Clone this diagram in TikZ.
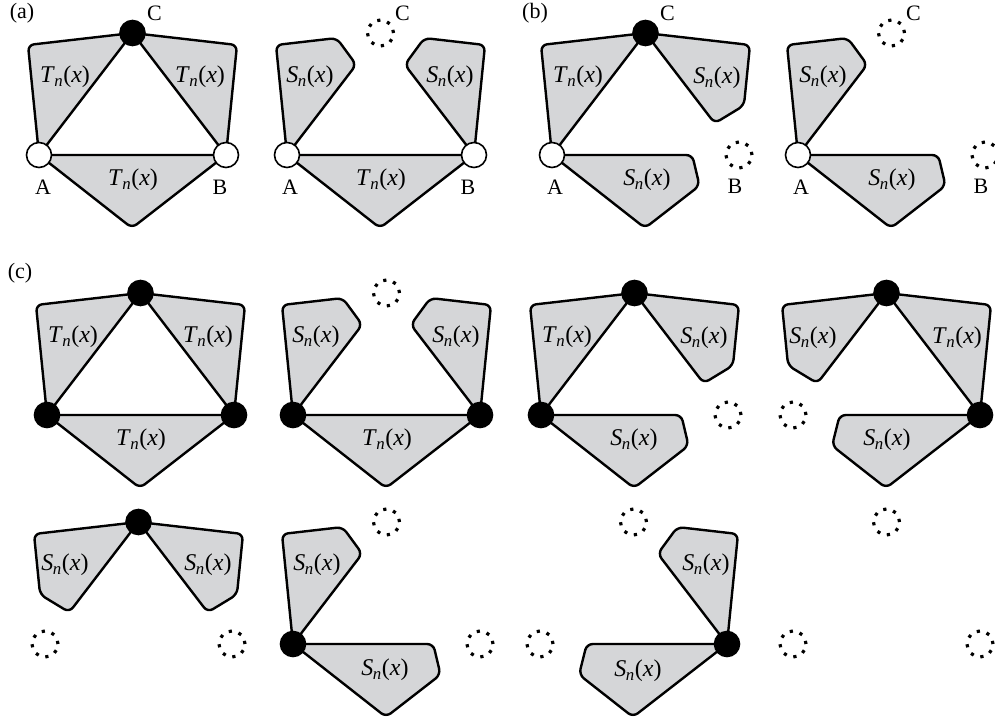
\documentclass[tikz,border=0pt]{standalone}
\usepackage{fontspec}
\setmainfont{Liberation Serif}
\usepackage{tikz}
\usetikzlibrary{calc,backgrounds}
\definecolor{blobgray}{RGB}{213,214,216}
\newcommand{\Tnx}{\textit{T}\kern-0.5pt\textsubscript{\textit{n}}(\textit{x})}
\newcommand{\Snx}{\textit{S}\kern-0.5pt\textsubscript{\textit{n}}(\textit{x})}

\begin{document}
\begin{tikzpicture}[x=1pt,y=-1pt,
  full node/.style={circle,fill=black,draw,line width=1.6pt,minimum size=25pt,inner sep=0pt},
  open node/.style={circle,fill=white,draw,line width=1.6pt,minimum size=25pt,inner sep=0pt},
  gone node/.style={circle,draw,line width=3.2pt,minimum size=26pt,inner sep=0pt,dash pattern=on 3.2pt off 7pt},
  blob/.style={fill=blobgray,draw,line width=2.4pt,rounded corners=6pt,line join=round},
  text node/.style={inner sep=0pt,font=\fontsize{24}{28}\selectfont},
  letter node/.style={inner sep=0pt,font=\fontsize{22}{26}\selectfont}]
  \useasboundingbox (0,0) rectangle (995,720);

  % (a) all three T blobs
  \begin{scope}[shift={(39,155)}]
    \node[open node] (a1A) at (0,0) {};
    \node[open node] (a1B) at (187,0) {};
    \node[full node] (a1C) at (93.5,-122) {};
    \coordinate (a1L) at (-11,-110);
    \coordinate (a1R) at (198,-110);
    \coordinate (a1D) at (93,73);
    \begin{scope}[on background layer]
      \draw[blob] (a1A.center) -- (a1L) -- (a1C.center) -- cycle;
      \draw[blob] (a1C.center) -- (a1R) -- (a1B.center) -- cycle;
      \draw[blob] (a1A.center) -- (a1D) -- (a1B.center) -- cycle;
    \end{scope}
    \node[text node] (a1t1) at (26,-78) {\Tnx};
    \node[text node] (a1t2) at (161,-78) {\Tnx};
    \node[text node] (a1t3) at (94,25) {\Tnx};
    \node[letter node] (a1a) at (4,32) {A};
    \node[letter node] (a1b) at (181,32) {B};
    \node[letter node] (a1c) at (115.5,-142) {C};
    \node[letter node] (tagA) at (-17,-142) {(a)};
  \end{scope}

  % (a) C removed
  \begin{scope}[shift={(287,155)}]
    \node[open node] (a2A) at (0,0) {};
    \node[open node] (a2B) at (187,0) {};
    \node[gone node] (a2C) at (93.5,-122) {};
    \coordinate (a2L) at (-11,-110);
    \coordinate (a2R) at (198,-110);
    \coordinate (a2D) at (93,73);
    \begin{scope}[on background layer]
      \draw[blob] (a2A.center) -- (a2L) -- ($(a2L)!0.58!(a2C.center)$) -- ($(a2A.center)!0.74!(a2C.center)$) -- cycle;
      \draw[blob] (a2B.center) -- (a2R) -- ($(a2R)!0.58!(a2C.center)$) -- ($(a2B.center)!0.74!(a2C.center)$) -- cycle;
      \draw[blob] (a2A.center) -- (a2D) -- (a2B.center) -- cycle;
    \end{scope}
    \node[text node] (a2t1) at (23,-78) {\Snx};
    \node[text node] (a2t2) at (163,-78) {\Snx};
    \node[text node] (a2t3) at (94,25) {\Tnx};
    \node[letter node] (a2a) at (3,32) {A};
    \node[letter node] (a2b) at (181,32) {B};
    \node[letter node] (a2c) at (115.5,-142) {C};
  \end{scope}

  % (b) B removed
  \begin{scope}[shift={(552,155)}]
    \node[open node] (b1A) at (0,0) {};
    \node[gone node] (b1B) at (187,0) {};
    \node[full node] (b1C) at (93.5,-122) {};
    \coordinate (b1L) at (-11,-110);
    \coordinate (b1R) at (198,-110);
    \coordinate (b1D) at (93,73);
    \begin{scope}[on background layer]
      \draw[blob] (b1A.center) -- (b1L) -- (b1C.center) -- cycle;
      \draw[blob] (b1C.center) -- (b1R) -- ($(b1R)!0.55!(b1B.center)$) -- ($(b1C.center)!0.74!(b1B.center)$) -- cycle;
      \draw[blob] (b1A.center) -- ($(b1A.center)!0.75!(b1B.center)$) -- ($(b1D)!0.58!(b1B.center)$) -- (b1D) -- cycle;
    \end{scope}
    \node[text node] (b1t1) at (26,-78) {\Tnx};
    \node[text node] (b1t2) at (165,-77) {\Snx};
    \node[text node] (b1t3) at (95,25) {\Snx};
    \node[letter node] (b1a) at (3,32) {A};
    \node[letter node] (b1b) at (183,31) {B};
    \node[letter node] (b1c) at (115.5,-142) {C};
    \node[letter node] (tagB) at (-17,-142) {(b)};
  \end{scope}

  % (b) B and C removed
  \begin{scope}[shift={(798,155)}]
    \node[open node] (b2A) at (0,0) {};
    \node[gone node] (b2B) at (187,0) {};
    \node[gone node] (b2C) at (93.5,-122) {};
    \coordinate (b2L) at (-11,-110);
    \coordinate (b2D) at (93,73);
    \begin{scope}[on background layer]
      \draw[blob] (b2A.center) -- (b2L) -- ($(b2L)!0.58!(b2C.center)$) -- ($(b2A.center)!0.74!(b2C.center)$) -- cycle;
      \draw[blob] (b2A.center) -- ($(b2A.center)!0.75!(b2B.center)$) -- ($(b2D)!0.58!(b2B.center)$) -- (b2D) -- cycle;
    \end{scope}
    \node[text node] (b2t1) at (25,-78) {\Snx};
    \node[text node] (b2t3) at (94,25) {\Snx};
    \node[letter node] (b2a) at (3,32) {A};
    \node[letter node] (b2b) at (183,31) {B};
    \node[letter node] (b2c) at (115.5,-142) {C};
  \end{scope}

  % (c) first row
  \begin{scope}[shift={(47,415)}]
    \node[full node] (c1A) at (0,0) {};
    \node[full node] (c1B) at (187,0) {};
    \node[full node] (c1C) at (93.5,-122) {};
    \coordinate (c1L) at (-11,-110);
    \coordinate (c1R) at (198,-110);
    \coordinate (c1D) at (93,73);
    \begin{scope}[on background layer]
      \draw[blob] (c1A.center) -- (c1L) -- (c1C.center) -- cycle;
      \draw[blob] (c1C.center) -- (c1R) -- (c1B.center) -- cycle;
      \draw[blob] (c1A.center) -- (c1D) -- (c1B.center) -- cycle;
    \end{scope}
    \node[text node] (c1t1) at (26,-78) {\Tnx};
    \node[text node] (c1t2) at (161,-78) {\Tnx};
    \node[text node] (c1t3) at (94,25) {\Tnx};
    \node[letter node] (tagC) at (-27,-142) {(c)};
  \end{scope}

  \begin{scope}[shift={(293,415)}]
    \node[full node] (c2A) at (0,0) {};
    \node[full node] (c2B) at (187,0) {};
    \node[gone node] (c2C) at (93.5,-122) {};
    \coordinate (c2L) at (-11,-110);
    \coordinate (c2R) at (198,-110);
    \coordinate (c2D) at (93,73);
    \begin{scope}[on background layer]
      \draw[blob] (c2A.center) -- (c2L) -- ($(c2L)!0.58!(c2C.center)$) -- ($(c2A.center)!0.74!(c2C.center)$) -- cycle;
      \draw[blob] (c2B.center) -- (c2R) -- ($(c2R)!0.58!(c2C.center)$) -- ($(c2B.center)!0.74!(c2C.center)$) -- cycle;
      \draw[blob] (c2A.center) -- (c2D) -- (c2B.center) -- cycle;
    \end{scope}
    \node[text node] (c2t1) at (23,-78) {\Snx};
    \node[text node] (c2t2) at (163,-78) {\Snx};
    \node[text node] (c2t3) at (94,25) {\Tnx};
  \end{scope}

  \begin{scope}[shift={(541,415)}]
    \node[full node] (c3A) at (0,0) {};
    \node[gone node] (c3B) at (187,0) {};
    \node[full node] (c3C) at (93.5,-122) {};
    \coordinate (c3L) at (-11,-110);
    \coordinate (c3R) at (198,-110);
    \coordinate (c3D) at (93,73);
    \begin{scope}[on background layer]
      \draw[blob] (c3A.center) -- (c3L) -- (c3C.center) -- cycle;
      \draw[blob] (c3C.center) -- (c3R) -- ($(c3R)!0.55!(c3B.center)$) -- ($(c3C.center)!0.74!(c3B.center)$) -- cycle;
      \draw[blob] (c3A.center) -- ($(c3A.center)!0.75!(c3B.center)$) -- ($(c3D)!0.58!(c3B.center)$) -- (c3D) -- cycle;
    \end{scope}
    \node[text node] (c3t1) at (26,-78) {\Tnx};
    \node[text node] (c3t2) at (163,-77) {\Snx};
    \node[text node] (c3t3) at (93,25) {\Snx};
  \end{scope}

  \begin{scope}[shift={(793,415)}]
    \node[gone node] (c4A) at (0,0) {};
    \node[full node] (c4B) at (187,0) {};
    \node[full node] (c4C) at (93.5,-122) {};
    \coordinate (c4L) at (-11,-110);
    \coordinate (c4R) at (198,-110);
    \coordinate (c4D) at (93,73);
    \begin{scope}[on background layer]
      \draw[blob] (c4C.center) -- (c4L) -- ($(c4L)!0.55!(c4A.center)$) -- ($(c4C.center)!0.74!(c4A.center)$) -- cycle;
      \draw[blob] (c4C.center) -- (c4R) -- (c4B.center) -- cycle;
      \draw[blob] (c4B.center) -- ($(c4B.center)!0.75!(c4A.center)$) -- ($(c4D)!0.58!(c4A.center)$) -- (c4D) -- cycle;
    \end{scope}
    \node[text node] (c4t1) at (20,-77) {\Snx};
    \node[text node] (c4t2) at (164,-77) {\Tnx};
    \node[text node] (c4t3) at (94,25) {\Snx};
  \end{scope}

  % (c) second row
  \begin{scope}[shift={(45,644)}]
    \node[gone node] (c5A) at (0,0) {};
    \node[gone node] (c5B) at (187,0) {};
    \node[full node] (c5C) at (93.5,-122) {};
    \coordinate (c5L) at (-11,-110);
    \coordinate (c5R) at (198,-110);
    \begin{scope}[on background layer]
      \draw[blob] (c5C.center) -- (c5L) -- ($(c5L)!0.55!(c5A.center)$) -- ($(c5C.center)!0.74!(c5A.center)$) -- cycle;
      \draw[blob] (c5C.center) -- (c5R) -- ($(c5R)!0.55!(c5B.center)$) -- ($(c5C.center)!0.74!(c5B.center)$) -- cycle;
    \end{scope}
    \node[text node] (c5t1) at (20,-79) {\Snx};
    \node[text node] (c5t2) at (163,-79) {\Snx};
  \end{scope}

  \begin{scope}[shift={(293,644)}]
    \node[full node] (c6A) at (0,0) {};
    \node[gone node] (c6B) at (187,0) {};
    \node[gone node] (c6C) at (93.5,-122) {};
    \coordinate (c6L) at (-11,-110);
    \coordinate (c6D) at (93,73);
    \begin{scope}[on background layer]
      \draw[blob] (c6A.center) -- (c6L) -- ($(c6L)!0.58!(c6C.center)$) -- ($(c6A.center)!0.74!(c6C.center)$) -- cycle;
      \draw[blob] (c6A.center) -- ($(c6A.center)!0.75!(c6B.center)$) -- ($(c6D)!0.58!(c6B.center)$) -- (c6D) -- cycle;
    \end{scope}
    \node[text node] (c6t1) at (24,-79) {\Snx};
    \node[text node] (c6t3) at (92,26) {\Snx};
  \end{scope}

  \begin{scope}[shift={(540,644)}]
    \node[gone node] (c7A) at (0,0) {};
    \node[full node] (c7B) at (187,0) {};
    \node[gone node] (c7C) at (93.5,-122) {};
    \coordinate (c7R) at (198,-110);
    \coordinate (c7D) at (93,73);
    \begin{scope}[on background layer]
      \draw[blob] (c7B.center) -- (c7R) -- ($(c7R)!0.58!(c7C.center)$) -- ($(c7B.center)!0.74!(c7C.center)$) -- cycle;
      \draw[blob] (c7B.center) -- ($(c7B.center)!0.75!(c7A.center)$) -- ($(c7D)!0.58!(c7A.center)$) -- (c7D) -- cycle;
    \end{scope}
    \node[text node] (c7t2) at (166,-79) {\Snx};
    \node[text node] (c7t3) at (98,27) {\Snx};
  \end{scope}

  \begin{scope}[shift={(793,644)}]
    \node[gone node] (c8A) at (0,0) {};
    \node[gone node] (c8B) at (187,0) {};
    \node[gone node] (c8C) at (93.5,-122) {};
  \end{scope}
\end{tikzpicture}
\end{document}
